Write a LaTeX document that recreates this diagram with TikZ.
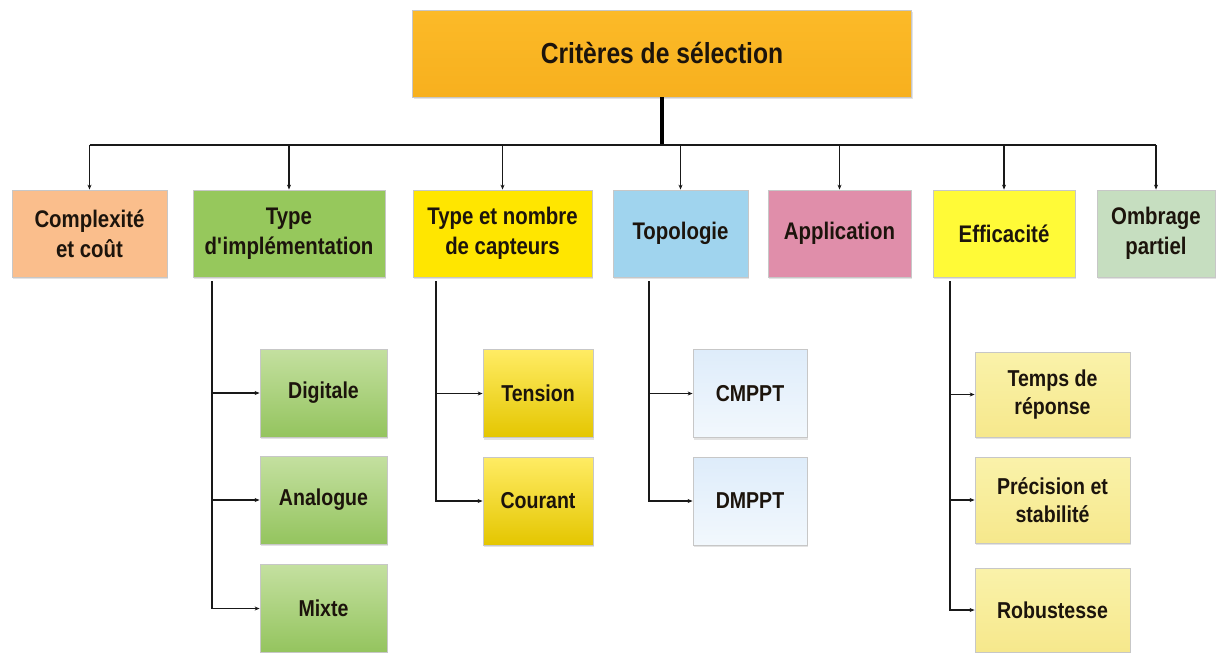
\documentclass[tikz,border=0pt]{standalone}
\usepackage{fontspec}
\setmainfont[FakeStretch=0.85]{Liberation Sans}
\usetikzlibrary{shadows,arrows.meta}
\definecolor{txt}{RGB}{28,20,12}
\definecolor{ctop}{RGB}{252,186,40}
\definecolor{ctopb}{RGB}{247,176,30}
\definecolor{ccomp}{RGB}{250,190,140}
\definecolor{cimpl}{RGB}{150,200,92}
\definecolor{ccapt}{RGB}{255,230,0}
\definecolor{ctopo}{RGB}{160,212,238}
\definecolor{capp}{RGB}{224,142,170}
\definecolor{ceff}{RGB}{255,250,55}
\definecolor{comb}{RGB}{198,222,192}
\definecolor{gtop}{RGB}{196,224,160}
\definecolor{gbot}{RGB}{148,196,94}
\definecolor{ytop}{RGB}{255,236,100}
\definecolor{ybot}{RGB}{228,198,0}
\definecolor{btop}{RGB}{222,236,250}
\definecolor{bbot}{RGB}{242,248,253}
\definecolor{ptop}{RGB}{250,242,170}
\definecolor{pbot}{RGB}{246,232,140}
\begin{document}
\begin{tikzpicture}[x=1pt,y=-1pt,
  box/.style={draw=black!22, line width=0.8pt, align=center, text=txt, inner sep=2pt,
    drop shadow={opacity=0.22, shadow xshift=1pt, shadow yshift=-2pt}},
  titlebox/.style={box, minimum width=499pt, minimum height=87pt, font=\bfseries\fontsize{29}{33}\selectfont},
  lvl/.style={box, minimum height=87pt, font=\bfseries\fontsize{24}{30}\selectfont},
  sub/.style={box, minimum height=88pt, font=\bfseries\fontsize{23}{28}\selectfont},
  conn/.style={line width=1.4pt, draw=black!90},
  arr/.style={conn, -{Stealth[length=5pt,width=4pt]}},
  trunk/.style={line width=3.5pt, draw=black}
]
\useasboundingbox[fill=white] (0,0) rectangle (1218,653);

% title
\node[titlebox, top color=ctop, bottom color=ctopb] (top) at (662,53.5) {Critères de sélection};

% level 1
\node[lvl, fill=ccomp, minimum width=155pt] (comp) at (89.5,233.5) {Complexité\\et coût};
\node[lvl, fill=cimpl, minimum width=192pt] (impl) at (289,233.5) {Type\\d\textquotesingle implémentation};
\node[lvl, fill=ccapt, minimum width=179pt] (capt) at (502.5,233.5) {Type et nombre\\de capteurs};
\node[lvl, fill=ctopo, minimum width=135pt] (topo) at (680.5,233.5) {Topologie};
\node[lvl, fill=capp, minimum width=143pt] (app) at (839.5,233.5) {Application};
\node[lvl, fill=ceff, minimum width=142pt] (eff) at (1004,233.5) {Efficacité};
\node[lvl, fill=comb, minimum width=118pt] (omb) at (1156,233.5) {Ombrage\\partiel};

% bus
\coordinate (bcomp) at (89.5,145);
\coordinate (bimpl) at (289,145);
\coordinate (bcapt) at (502.5,145);
\coordinate (btrunk) at (662,145);
\coordinate (btopo) at (680.5,145);
\coordinate (bapp) at (839.5,145);
\coordinate (beff) at (1004,145);
\coordinate (bomb) at (1156,145);
\draw[trunk] (top.south) -- (btrunk);
\draw[conn] (bcomp) -- (bomb);
\foreach \n in {comp,impl,capt,topo,app,eff,omb}{
  \draw[arr] (b\n) -- (\n.north);
}

% sub: implementation
\node[sub, top color=gtop, bottom color=gbot, minimum width=127pt] (dig) at (323.5,393) {Digitale};
\node[sub, top color=gtop, bottom color=gbot, minimum width=127pt] (ana) at (323.5,500) {Analogue};
\node[sub, top color=gtop, bottom color=gbot, minimum width=127pt] (mix) at (323.5,608.5) {Mixte};
\coordinate (simpl) at (212,281);
\foreach \n in {dig,ana,mix}{ \draw[arr] (simpl) |- (\n.west); }

% sub: capteurs
\node[sub, top color=ytop, bottom color=ybot, minimum width=110pt] (ten) at (538,393.5) {Tension};
\node[sub, top color=ytop, bottom color=ybot, minimum width=110pt] (cou) at (538,501) {Courant};
\coordinate (scapt) at (436,281);
\foreach \n in {ten,cou}{ \draw[arr] (scapt) |- (\n.west); }

% sub: topologie
\node[sub, top color=btop, bottom color=bbot, minimum width=114pt] (cm) at (750,393.5) {CMPPT};
\node[sub, top color=btop, bottom color=bbot, minimum width=114pt] (dm) at (750,501) {DMPPT};
\coordinate (stopo) at (649,281);
\foreach \n in {cm,dm}{ \draw[arr] (stopo) |- (\n.west); }

% sub: efficacite
\node[sub, top color=ptop, bottom color=pbot, minimum width=155pt, minimum height=85pt] (temps) at (1052.5,394.5) {Temps de\\réponse};
\node[sub, top color=ptop, bottom color=pbot, minimum width=155pt, minimum height=86pt] (prec) at (1052.5,500) {Précision et\\stabilité};
\node[sub, top color=ptop, bottom color=pbot, minimum width=155pt, minimum height=84pt] (rob) at (1052.5,610) {Robustesse};
\coordinate (seff) at (950,281);
\foreach \n in {temps,prec,rob}{ \draw[arr] (seff) |- (\n.west); }
\end{tikzpicture}
\end{document}
